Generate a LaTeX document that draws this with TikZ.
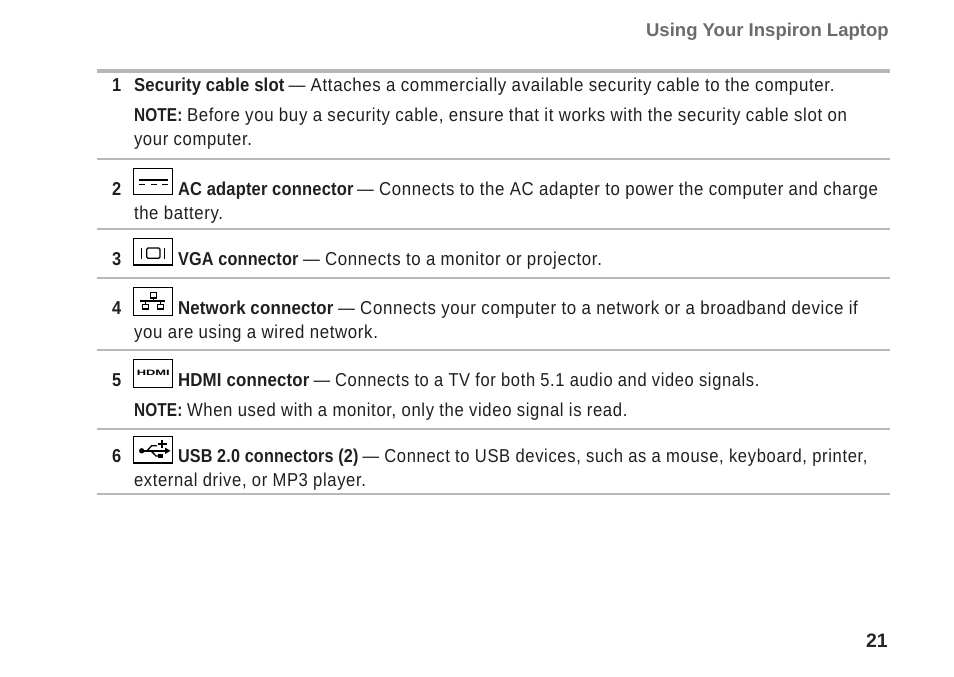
\documentclass[tikz,border=0pt]{standalone}
\usepackage{graphicx}
\usepackage{fontspec}
\setmainfont{Liberation Sans}
\newfontfamily\bodyf[FakeStretch=0.90,LetterSpace=3.5]{Liberation Sans}
\newfontfamily\boldf[FakeStretch=0.88,LetterSpace=1.0]{Liberation Sans Bold}
\definecolor{rulegray}{gray}{0.72}
\definecolor{headgray}{gray}{0.42}
% text of a given width in reference pixels, on its own baseline
\newcommand{\wpx}[2]{\resizebox{#1\dimexpr0.75pt\relax}{\height}{#2}}
\tikzset{
  body/.style={anchor=base west,inner sep=0pt,outer sep=0pt,font=\fontsize{14}{16}\bodyf,text=black!88},
  strong/.style={anchor=base west,inner sep=0pt,outer sep=0pt,font=\fontsize{14}{16}\boldf,text=black!88},
  num/.style={strong},
  rulea/.style={draw=rulegray,line width=1.2pt},
  ruleb/.style={draw=rulegray,line width=2.4pt},
  iconbox/.style={draw=black,line width=0.85pt,fill=white},
  glyph/.style={draw=black,line width=1pt},
}
\begin{document}
\begin{tikzpicture}[x=0.75pt,y=-0.75pt]
\useasboundingbox (0,0) rectangle (954,677);
\node[anchor=base east,inner sep=0pt,font=\fontsize{13.9}{16}\bfseries,text=headgray] (head) at (889,37) {Using Your Inspiron Laptop};
\draw[ruleb] (97,71) -- (890,71);
\draw[rulea] (97,159) -- (890,159);
\draw[rulea] (97,229) -- (890,229);
\draw[rulea] (97,278) -- (890,278);
\draw[rulea] (97,350) -- (890,350);
\draw[rulea] (97,429) -- (890,429);
\draw[rulea] (97,494) -- (890,494);
% row 1
\node[num] (n1) at (112,92) {1};
\node[strong] (t1a) at (134,92) {\wpx{150.5}{Security cable slot}};
\node[body] (t1b) at (288.5,92) {\wpx{546}{— Attaches a commercially available security cable to the computer.}};
\node[strong] (t1c) at (134,122) {\wpx{48.5}{NOTE:}};
\node[body] (t1d) at (187,122) {\wpx{660}{Before you buy a security cable, ensure that it works with the security cable slot on}};
\node[body] (t1e) at (134,146) {\wpx{118}{your computer.}};
% row 2
\node[num] (n2) at (112,196) {2};
\draw[iconbox] (133.5,168.2) rectangle (172.7,194.6);
\draw[glyph,line width=1.3pt] (139,180) -- (167.7,180);
\draw[glyph,line width=0.8pt,dash pattern=on 4.5pt off 4.25pt] (139,184.7) -- (167.7,184.7);
\node[strong] (t2a) at (178,196) {\wpx{175.5}{AC adapter connector}};
\node[body] (t2b) at (357,196) {\wpx{521}{— Connects to the AC adapter to power the computer and charge}};
\node[body] (t2c) at (134,220) {\wpx{89}{the battery.}};
% row 3
\node[num] (n3) at (112,265.5) {3};
\draw[iconbox] (133.5,238.2) rectangle (172.7,265);
\draw[glyph] (141.7,247.7) -- (141.7,258.7);
\draw[glyph] (164.3,247.7) -- (164.3,258.7);
\draw[glyph,rounded corners=1pt] (146.7,248) rectangle (160,258.3);
\node[strong] (t3a) at (178,265.5) {\wpx{120.5}{VGA connector}};
\node[body] (t3b) at (303,265.5) {\wpx{299}{— Connects to a monitor or projector.}};
% row 4
\node[num] (n4) at (112,315) {4};
\draw[iconbox] (133.5,287.2) rectangle (172.7,315.5);
\draw[glyph] (150.2,292.5) rectangle (156.5,298);
\draw[glyph] (153.3,298) -- (153.3,301);
\draw[glyph] (140,301) -- (165,301);
\draw[glyph] (145.5,301) -- (145.5,304.3) (160.5,301) -- (160.5,304.3);
\draw[glyph] (142.7,304.3) rectangle (148.3,309);
\draw[glyph] (157.7,304.3) rectangle (163.3,309);
\node[strong] (t4a) at (178,315) {\wpx{155.5}{Network connector}};
\node[body] (t4b) at (338,315) {\wpx{520}{— Connects your computer to a network or a broadband device if}};
\node[body] (t4c) at (134,338.5) {\wpx{244}{you are using a wired network.}};
% row 5
\node[num] (n5) at (112,386.5) {5};
\draw[iconbox] (133.5,359.7) rectangle (172.7,387.3);
\node[inner sep=0pt,font=\fontsize{5.8}{7}\bfseries] (hdmi) at (153.3,372.5) {\wpx{33}{HDMI}};
\node[strong] (t5a) at (178,386.5) {\wpx{131.5}{HDMI connector}};
\node[body] (t5b) at (313.5,386.5) {\wpx{446}{— Connects to a TV for both 5.1 audio and video signals.}};
\node[strong] (t5c) at (134,416.5) {\wpx{48.5}{NOTE:}};
\node[body] (t5d) at (187,416.5) {\wpx{440.5}{When used with a monitor, only the video signal is read.}};
% row 6
\node[num] (n6) at (112,463) {6};
\draw[iconbox] (133.5,436.7) rectangle (172.7,463);
\draw[glyph,line width=1.2pt] (142,450.8) -- (166,450.8);
\fill (141.7,450.8) circle (2pt);
\draw[glyph,line width=1pt] (147,450.8) -- (151.7,445.7) -- (157,445.7);
\draw[glyph,line width=1pt] (151,450.8) -- (156,456) -- (159,456);
\fill (170.5,450.8) -- (165,447.6) -- (165,454) -- cycle;
\fill (157.7,453.8) rectangle (162.7,458);
\draw[glyph,line width=1.6pt] (158,444) -- (166.6,444) (162.3,440.2) -- (162.3,447.8);
\node[strong] (t6a) at (178,463) {\wpx{180.5}{USB 2.0 connectors (2)}};
\node[body] (t6b) at (362.5,463) {\wpx{505}{— Connect to USB devices, such as a mouse, keyboard, printer,}};
\node[body] (t6c) at (134,487) {\wpx{232}{external drive, or MP3 player.}};
\node[anchor=base east,inner sep=0pt,font=\fontsize{14.6}{16}\bfseries,text=black!85] (page) at (888,647) {21};
\end{tikzpicture}
\end{document}
